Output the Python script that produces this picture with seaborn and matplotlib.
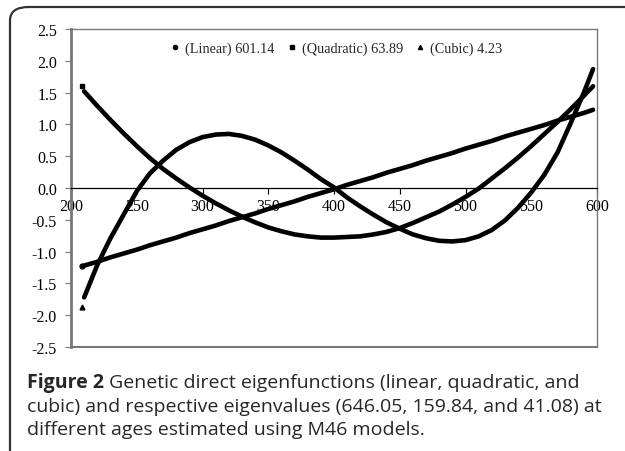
import numpy as np
import pandas as pd
import matplotlib
matplotlib.use("Agg")
import matplotlib.pyplot as plt
import seaborn as sns
from matplotlib.lines import Line2D
from matplotlib.patches import FancyBboxPatch

# ages (days) and the eigenfunction values
age = [210, 220, 230, 240, 250, 260, 270, 280, 290, 300,
       310, 320, 330, 340, 350, 360, 370, 380, 390, 400,
       410, 420, 430, 440, 450, 460, 470, 480, 490, 500,
       510, 520, 530, 540, 550, 560, 570, 580, 590, 597]

linear = [-1.22, -1.16, -1.09, -1.03, -0.97, -0.90, -0.84, -0.78, -0.71, -0.65,
          -0.59, -0.52, -0.46, -0.40, -0.33, -0.27, -0.21, -0.14, -0.08, -0.02,
          0.05, 0.11, 0.17, 0.24, 0.30, 0.36, 0.43, 0.49, 0.55, 0.62,
          0.68, 0.74, 0.81, 0.87, 0.93, 0.99, 1.06, 1.12, 1.18, 1.23]

quadratic = [1.52, 1.29, 1.07, 0.86, 0.66, 0.47, 0.30, 0.15, 0.01, -0.12,
             -0.24, -0.35, -0.45, -0.54, -0.62, -0.68, -0.73, -0.76, -0.78, -0.78,
             -0.77, -0.76, -0.73, -0.69, -0.63, -0.55, -0.46, -0.37, -0.26, -0.14,
             -0.01, 0.15, 0.31, 0.48, 0.66, 0.85, 1.04, 1.24, 1.45, 1.60]

cubic = [-1.72, -1.21, -0.79, -0.42, -0.05, 0.23, 0.43, 0.60, 0.72, 0.80,
         0.84, 0.85, 0.82, 0.76, 0.67, 0.56, 0.43, 0.29, 0.14, 0.01,
         -0.15, -0.29, -0.42, -0.54, -0.64, -0.73, -0.79, -0.83, -0.84, -0.82,
         -0.76, -0.66, -0.51, -0.31, -0.07, 0.21, 0.56, 1.02, 1.50, 1.87]

# first (isolated) points of each series
first_age = 208
first_vals = [-1.22, 1.60, -1.87]

labels = ["(Linear) 601.14", "(Quadratic) 63.89", "(Cubic) 4.23"]
markers = ["o", "s", "^"]

df = pd.DataFrame({"age": age, labels[0]: linear, labels[1]: quadratic, labels[2]: cubic})

sns.set_style("white")
plt.rcParams["axes.unicode_minus"] = False
serif = ["Liberation Serif", "DejaVu Serif"]

fig = plt.figure(figsize=(6.25, 4.52), dpi=100)
ax = fig.add_axes([71 / 625, 1 - 348 / 452, 526 / 625, 318 / 452])

for lab in labels:
    sns.lineplot(data=df, x="age", y=lab, ax=ax, color="black", lw=3.3,
                 solid_capstyle="round", legend=False)
for v, m in zip(first_vals, markers):
    ax.plot(first_age, v, marker=m, color="black", ms=3.5, ls="none")

ax.set_xlim(200, 600)
ax.set_ylim(-2.5, 2.5)
ax.set_xticks(np.arange(200, 601, 50))
ax.set_yticks(np.arange(-2.5, 2.51, 0.5))
ax.set_yticklabels([f"{t:.1f}" for t in np.arange(-2.5, 2.51, 0.5)])
ax.set_xlabel("")
ax.set_ylabel("")

ax.spines["bottom"].set_position(("data", 0))
ax.spines["bottom"].set_color("black")
ax.spines["bottom"].set_linewidth(0.9)
for s in ["left", "top", "right"]:
    ax.spines[s].set_color("#777777")
    ax.spines[s].set_linewidth(1.0)
ax.spines["left"].set_linewidth(2.0)
ax.axhline(-2.5, color="#777777", lw=1.5, clip_on=False)

ax.tick_params(axis="x", direction="out", length=4, width=0.8, color="black", pad=3)
ax.tick_params(axis="y", direction="out", length=4, width=0.8, color="#777777", pad=6)
ax.tick_params(bottom=True, left=True)
for t in ax.get_xticklabels() + ax.get_yticklabels():
    t.set_family(serif)
    t.set_fontsize(11.5)
    t.set_color("black")

handles = [Line2D([], [], marker=m, color="black", ls="none", ms=3) for m in markers]
ax.legend(handles, labels, loc="upper center", bbox_to_anchor=(0.505, 1.0), ncol=3,
          frameon=False, handlelength=0.6, handletextpad=0.4, columnspacing=0.9,
          prop={"family": serif, "size": 10.3})

# rounded frame around figure and caption
box = FancyBboxPatch((10 / 625, -0.1), 1.2, 1.1 - 8 / 452, boxstyle="round,pad=0,rounding_size=0.03",
                     transform=fig.transFigure, fill=False, ec="#333333", lw=1.6)
fig.patches.append(box)

cap_font = ["Open Sans", "DejaVu Sans"]
cap_size = 14.0
x0 = 27 / 625
t1 = fig.text(x0, 1 - 383 / 452, "Figure 2", family=cap_font, fontsize=cap_size,
              weight="bold", va="center")
fig.canvas.draw()
bb = t1.get_window_extent()
fig.text(bb.x1 / 625 + 5 / 625, 1 - 383 / 452,
         "Genetic direct eigenfunctions (linear, quadratic, and",
         family=cap_font, fontsize=cap_size, va="center")
fig.text(x0, 1 - 407 / 452,
         "cubic) and respective eigenvalues (646.05, 159.84, and 41.08) at",
         family=cap_font, fontsize=cap_size, va="center")
fig.text(x0, 1 - 430 / 452, "different ages estimated using M46 models.",
         family=cap_font, fontsize=cap_size, va="center")

fig.savefig("out.png", dpi=100)
